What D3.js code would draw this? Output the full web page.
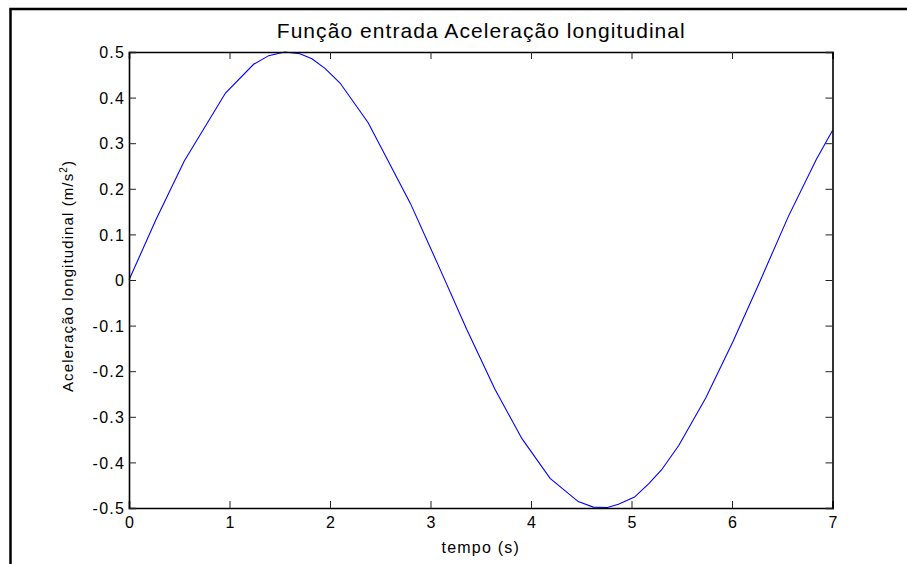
<!DOCTYPE html>
<html>
<head>
<meta charset="utf-8">
<script src="https://cdn.jsdelivr.net/npm/d3@7"></script>
<style>
  html, body { margin: 0; padding: 0; background: #fff; }
  svg { display: block; }
  text { font-family: "Liberation Sans", Arial, Helvetica, sans-serif; fill: #000; }
</style>
</head>
<body>
<svg id="chart" width="907" height="564"></svg>
<script>
// ---- data ----
const tempo = [0, 0.27, 0.55, 0.96, 1.24, 1.39, 1.55, 1.70, 1.82, 1.95, 2.10, 2.38, 2.80, 3.08, 3.36, 3.64, 3.91, 4.19, 4.47, 4.62, 4.76, 4.87, 5.03, 5.17, 5.30, 5.47, 5.74, 6.01, 6.27, 6.56, 6.84, 7.00];
const aceleracao = [0, 0.133, 0.261, 0.410, 0.473, 0.492, 0.500, 0.496, 0.485, 0.464, 0.432, 0.345, 0.168, 0.031, -0.108, -0.239, -0.348, -0.435, -0.486, -0.498, -0.499, -0.492, -0.476, -0.447, -0.416, -0.363, -0.258, -0.135, -0.007, 0.139, 0.265, 0.328];
const xTicks = [0, 1, 2, 3, 4, 5, 6, 7];
const yTicks = [-0.5, -0.4, -0.3, -0.2, -0.1, 0, 0.1, 0.2, 0.3, 0.4, 0.5];
const titleText = "Função entrada Aceleração longitudinal";
const xLabelText = "tempo (s)";
const yLabelMain = "Aceleração longitudinal (m/s";
const yLabelSup = "2";
const yLabelEnd = ")";

// ---- layout ----
const svg = d3.select("#chart");
const L = 129, R = 832.5, T = 52, B = 508;
const x = d3.scaleLinear().domain([0, 7]).range([L, R]);
const y = d3.scaleLinear().domain([-0.5, 0.5]).range([B, T]);

// outer frame
svg.append("rect").attr("x", 10.5).attr("y", 9).attr("width", 1000).attr("height", 1000)
  .attr("fill", "none").attr("stroke", "#000").attr("stroke-width", 2.5);

// curve
const line = d3.line().x((d, i) => x(tempo[i])).y(d => y(d));
svg.append("path").datum(aceleracao).attr("d", line)
  .attr("fill", "none").attr("stroke", "#0000ff").attr("stroke-width", 1.1);

const tickLen = 7;
const fmt = d => String(d).replace("-0.", "-0.");
const LS = 1.3; // letter spacing for tick labels

// bottom axis
const gB = svg.append("g").attr("transform", `translate(0,${B})`)
  .call(d3.axisBottom(x).tickValues(xTicks).tickSize(-tickLen).tickPadding(9).tickFormat(fmt));
// top axis (ticks only)
const gT = svg.append("g").attr("transform", `translate(0,${T})`)
  .call(d3.axisTop(x).tickValues(xTicks).tickSize(-tickLen).tickFormat(""));
// left axis
const gL = svg.append("g").attr("transform", `translate(${L},0)`)
  .call(d3.axisLeft(y).tickValues(yTicks).tickSize(-tickLen).tickPadding(5).tickFormat(fmt));
// right axis (ticks only)
const gR = svg.append("g").attr("transform", `translate(${R},0)`)
  .call(d3.axisRight(y).tickValues(yTicks).tickSize(-tickLen).tickFormat(""));

[gB, gT, gL, gR].forEach(g => {
  g.select(".domain").attr("stroke", "#000").attr("stroke-width", 1.6);
  g.selectAll(".tick line").attr("stroke", "#222").attr("stroke-width", 1);
  g.selectAll("text").attr("font-size", 16).attr("fill", "#000")
    .attr("letter-spacing", LS)
    .attr("font-family", "'Liberation Sans', Arial, sans-serif");
});
gL.selectAll(".tick text").attr("dy", "0.36em").attr("dx", LS);
gB.selectAll(".tick text").attr("dx", LS / 2);

// title
svg.append("text").attr("x", (L + R) / 2).attr("y", 38).attr("text-anchor", "middle")
  .attr("font-size", 21).attr("textLength", 408).attr("lengthAdjust", "spacing").text(titleText);

// x label
svg.append("text").attr("x", (L + R) / 2).attr("y", 553).attr("text-anchor", "middle")
  .attr("font-size", 16).attr("letter-spacing", 1.2).text(xLabelText);

// y label
const yl = svg.append("text").attr("transform", `translate(73,${(T + B) / 2 - 4}) rotate(-90)`)
  .attr("text-anchor", "middle").attr("font-size", 15).attr("letter-spacing", 1.1);
yl.append("tspan").text(yLabelMain);
yl.append("tspan").attr("font-size", 10).attr("dy", -6).text(yLabelSup);
yl.append("tspan").attr("dy", 6).text(yLabelEnd);
</script>
</body>
</html>
